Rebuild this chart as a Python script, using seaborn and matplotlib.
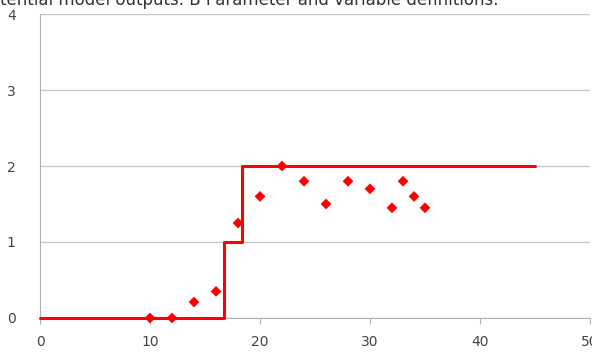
import matplotlib
matplotlib.use('Agg')
import matplotlib.pyplot as plt
import seaborn as sns
import pandas as pd

# dados observados (pontos)
obs_x = [10, 12, 14, 16, 18, 20, 22, 24, 26, 28, 30, 32, 33, 34, 35]
obs_y = [0, 0, 0.21, 0.35, 1.25, 1.6, 2.0, 1.8, 1.5, 1.8, 1.7, 1.45, 1.8, 1.6, 1.45]

# saida do modelo (degraus)
step_x = [0, 16.7, 18.4, 45]
step_y = [0, 1, 2, 2]

sns.set_style('white')
plt.rcParams['font.family'] = ['DejaVu Sans']

fig = plt.figure(figsize=(5.92, 3.53), dpi=100)
ax = fig.add_axes([0.0676, 0.0992, 0.929, 0.861])

df_step = pd.DataFrame({'x': step_x, 'y': step_y})
df_obs = pd.DataFrame({'x': obs_x, 'y': obs_y})

sns.lineplot(data=df_step, x='x', y='y', ax=ax, color='#ff0000', linewidth=2.2,
             drawstyle='steps-post', sort=False, estimator=None, zorder=5,
             clip_on=False)
sns.scatterplot(data=df_obs, x='x', y='y', ax=ax, color='#ff0000', marker='D',
                s=30, edgecolor='none', zorder=6, clip_on=False)

ax.set_xlim(0, 50)
ax.set_ylim(0, 4)
ax.set_xticks([0, 10, 20, 30, 40, 50])
ax.set_yticks([0, 1, 2, 3, 4])
ax.set_xlabel('')
ax.set_ylabel('')

ax.grid(axis='y', color='#c8c8c8', linewidth=1)
ax.set_axisbelow(True)
for s in ['top', 'right']:
    ax.spines[s].set_visible(False)
ax.spines['left'].set_color('#b0b0b0')
ax.spines['bottom'].set_color('#b0b0b0')
ax.tick_params(axis='x', which='both', bottom=True, length=4, color='#b0b0b0',
               labelsize=10, labelcolor='#444444', pad=8)
ax.tick_params(axis='y', left=False, labelsize=10, labelcolor='#444444', pad=14)

# titulo cortado no topo da imagem
fig.text(0.0, 1 - 5 / 353, 'tential model outputs. B Parameter and variable definitions.',
         fontsize=12, color='#333333', va='baseline', ha='left')

fig.savefig('out.png', dpi=100)
